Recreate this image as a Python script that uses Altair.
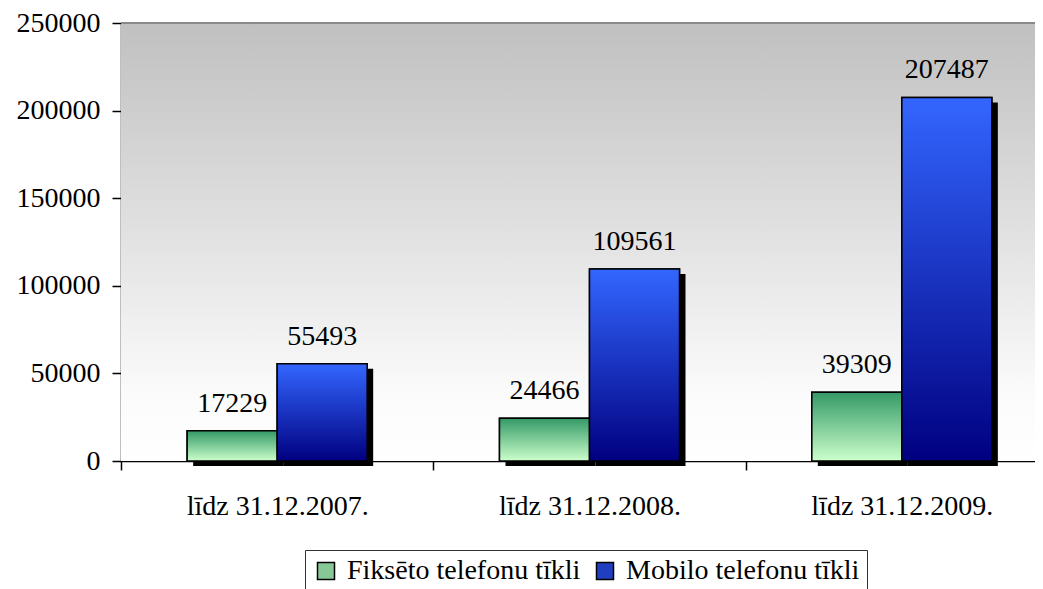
import altair as alt
import pandas as pd

categories = ["līdz 31.12.2007.", "līdz 31.12.2008.", "līdz 31.12.2009."]
series = ["Fiksēto telefonu tīkli", "Mobilo telefonu tīkli"]
fixed_values = [17229, 24466, 39309]
mobile_values = [55493, 109561, 207487]
y_ticks = [0, 50000, 100000, 150000, 200000, 250000]

rows = []
for c, f, m in zip(categories, fixed_values, mobile_values):
    rows.append({"cat": c, "series": series[0], "value": f})
    rows.append({"cat": c, "series": series[1], "value": m})
df = pd.DataFrame(rows)

FONT = "Liberation Serif"
BAND = 937 / 3

x_enc = alt.X("cat:N", sort=categories, title=None,
              scale=alt.Scale(domain=categories, range=[0, 937], paddingInner=0, paddingOuter=0),
              axis=alt.Axis(labelFont=FONT, labelFontSize=28, labelColor="black", labelPadding=22,
                            labelAngle=0, tickBand="extent", tickSize=9, tickColor="black",
                            tickWidth=1.5, domainColor="black", domainWidth=1.5, labelLimit=400))
xo_enc = alt.XOffset("series:N", sort=series,
                     scale=alt.Scale(type="band", domain=series, paddingInner=0, paddingOuter=0.735,
                                     range=[0, BAND]))
xo_shadow = alt.XOffset("series:N", sort=series,
                        scale=alt.Scale(type="band", domain=series, paddingInner=0, paddingOuter=0.735,
                                        range=[6, BAND + 6]))
y_enc = alt.Y("value:Q", title=None,
              scale=alt.Scale(domain=[0, 250000], nice=False, zero=True),
              axis=alt.Axis(values=y_ticks, format="d", grid=False, labelFont=FONT,
                            labelFontSize=28, labelColor="black", labelPadding=12, tickSize=9,
                            tickColor="black", tickWidth=1.5, domainColor="black", domainWidth=1.5))

base = alt.Chart(df)

bg = base.mark_rect(
    fill=alt.Gradient(gradient="linear", x1=0, y1=0, x2=0, y2=1,
                      stops=[alt.GradientStop(offset=0, color="#c0c0c0"),
                             alt.GradientStop(offset=0.85, color="#fbfbfb"),
                             alt.GradientStop(offset=1, color="#ffffff")])
).encode(x=alt.value(0), x2=alt.value("width"), y=alt.value(0), y2=alt.value("height"))

top_line = base.mark_rule(color="#8a8a8a", strokeWidth=1.5).encode(
    x=alt.value(0), x2=alt.value("width"), y=alt.value(0))

shadow = base.mark_bar(color="black", yOffset=5, y2Offset=-5).encode(
    x=x_enc, xOffset=xo_shadow, y=y_enc)

legend_bars = base.mark_bar(stroke="black", strokeWidth=1.5).encode(
    x=x_enc, xOffset=xo_enc, y=y_enc,
    color=alt.Color("series:N", sort=series, title=None,
                    scale=alt.Scale(domain=series, range=["#86c996", "#1f3fc0"]),
                    legend=alt.Legend(orient="none", legendX=184, legendY=527, direction="horizontal",
                                      labelFont=FONT, labelFontSize=28, labelColor="black",
                                      labelLimit=600, symbolType="square", symbolSize=289,
                                      symbolStrokeColor="black", symbolStrokeWidth=1.5,
                                      symbolOpacity=1, padding=7, strokeColor="#333333",
                                      fillColor="white", columnPadding=10, labelOffset=7)))

green_grad = alt.Gradient(gradient="linear", x1=0, y1=0, x2=0, y2=1,
                          stops=[alt.GradientStop(offset=0, color="#339966"),
                                 alt.GradientStop(offset=1, color="#ccffcc")])
blue_grad = alt.Gradient(gradient="linear", x1=0, y1=0, x2=0, y2=1,
                         stops=[alt.GradientStop(offset=0, color="#3366ff"),
                                alt.GradientStop(offset=1, color="#000080")])

green_bars = base.transform_filter(alt.datum.series == series[0]).mark_bar(
    fill=green_grad, stroke="black", strokeWidth=1.5).encode(x=x_enc, xOffset=xo_enc, y=y_enc)
blue_bars = base.transform_filter(alt.datum.series == series[1]).mark_bar(
    fill=blue_grad, stroke="black", strokeWidth=1.5).encode(x=x_enc, xOffset=xo_enc, y=y_enc)

labels = base.mark_text(font=FONT, fontSize=28, color="black", baseline="alphabetic", dy=-19).encode(
    x=x_enc, xOffset=xo_enc, y=y_enc, text=alt.Text("value:Q", format="d"))

chart = alt.layer(bg, top_line, shadow, legend_bars, green_bars, blue_bars, labels).resolve_scale(
    xOffset="independent"
).properties(
    width=914, height=438,
    autosize=alt.AutoSizeParams(type="none"),
    padding={"left": 113, "top": 15, "right": 0, "bottom": 128},
).configure_view(stroke=None).configure(background="white")

chart.save("out.html", embed_options={"renderer": "svg", "actions": False})
